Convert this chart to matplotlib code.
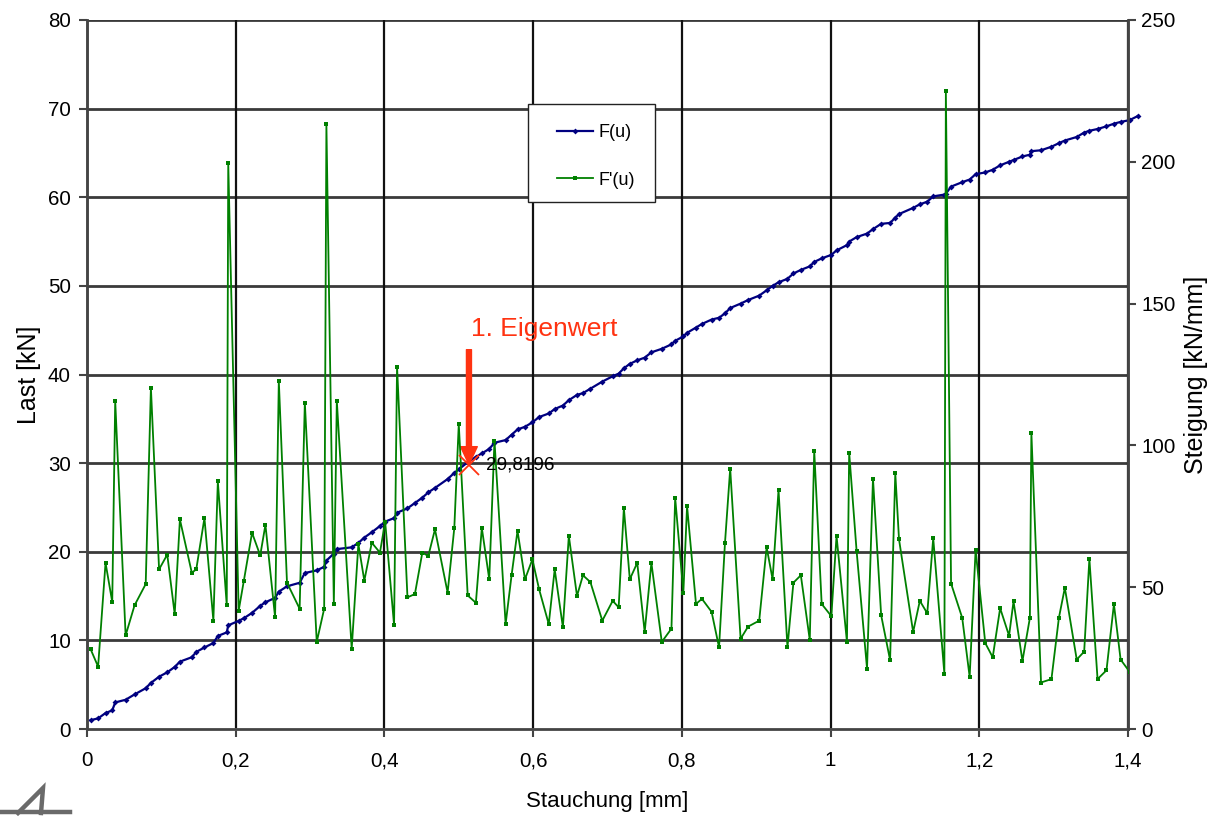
import numpy as np
import matplotlib.pyplot as plt
from matplotlib.lines import Line2D
from matplotlib.patches import Rectangle
from matplotlib.ticker import FuncFormatter

plt.rcParams['font.family'] = ['Liberation Sans', 'DejaVu Sans']

# Stauchung u [mm]
u = [0.005, 0.015, 0.025, 0.034, 0.038, 0.052, 0.064, 0.079, 0.086, 0.097,
     0.108, 0.118, 0.125, 0.141, 0.147, 0.158, 0.170, 0.176, 0.188, 0.190,
     0.204, 0.211, 0.222, 0.233, 0.240, 0.253, 0.258, 0.269, 0.286, 0.293,
     0.309, 0.319, 0.322, 0.332, 0.336, 0.356, 0.365, 0.373, 0.383, 0.394,
     0.401, 0.413, 0.417, 0.431, 0.441, 0.451, 0.459, 0.468, 0.485, 0.494,
     0.500, 0.512, 0.523, 0.531, 0.541, 0.548, 0.563, 0.571, 0.579, 0.589,
     0.599, 0.608, 0.621, 0.629, 0.640, 0.648, 0.659, 0.667, 0.677, 0.693,
     0.707, 0.715, 0.722, 0.730, 0.740, 0.750, 0.759, 0.773, 0.786, 0.791,
     0.802, 0.807, 0.819, 0.827, 0.840, 0.850, 0.858, 0.865, 0.879, 0.889,
     0.904, 0.914, 0.922, 0.930, 0.942, 0.950, 0.960, 0.972, 0.978, 0.988,
     1.001, 1.008, 1.022, 1.025, 1.035, 1.049, 1.057, 1.068, 1.080, 1.087,
     1.092, 1.111, 1.120, 1.130, 1.138, 1.153, 1.155, 1.162, 1.177, 1.187,
     1.195, 1.208, 1.218, 1.228, 1.240, 1.246, 1.258, 1.268, 1.270, 1.283,
     1.297, 1.307, 1.315, 1.331, 1.341, 1.348, 1.359, 1.371, 1.381, 1.390,
     1.402, 1.414]

# Last F(u) [kN]
F = [1.0, 1.2, 1.8, 2.1, 3.0, 3.3, 3.9, 4.6, 5.2, 5.9,
     6.4, 7.0, 7.6, 8.1, 8.7, 9.2, 9.7, 10.5, 10.9, 11.7,
     12.2, 12.5, 13.1, 13.9, 14.3, 14.8, 15.5, 16.1, 16.5, 17.6,
     17.9, 18.3, 19.0, 19.8, 20.3, 20.5, 21.0, 21.6, 22.2, 22.9,
     23.4, 23.8, 24.4, 24.9, 25.5, 26.1, 26.7, 27.2, 28.2, 28.9,
     29.3, 30.1, 30.7, 31.1, 31.6, 32.3, 32.6, 33.2, 33.8, 34.1,
     34.6, 35.2, 35.6, 36.1, 36.5, 37.1, 37.7, 37.9, 38.4, 39.2,
     39.8, 40.1, 40.7, 41.2, 41.6, 41.9, 42.5, 42.9, 43.4, 43.8,
     44.3, 44.7, 45.3, 45.7, 46.2, 46.4, 46.9, 47.5, 48.0, 48.4,
     48.9, 49.5, 50.0, 50.4, 50.8, 51.4, 51.8, 52.2, 52.7, 53.1,
     53.5, 54.0, 54.6, 55.0, 55.5, 55.9, 56.4, 57.0, 57.1, 57.7,
     58.1, 58.8, 59.2, 59.5, 60.1, 60.3, 60.4, 61.2, 61.7, 62.0,
     62.6, 62.8, 63.1, 63.6, 64.0, 64.2, 64.6, 64.8, 65.2, 65.3,
     65.7, 66.1, 66.4, 66.8, 67.3, 67.5, 67.7, 68.0, 68.3, 68.5,
     68.7, 69.2]

# Steigung F'(u) [kN/mm]
dF = [28.1, 22.0, 58.6, 44.8, 115.7, 33.0, 43.6, 51.1, 120.3, 56.3,
      61.5, 40.5, 73.9, 55.1, 56.3, 74.4, 38.2, 87.3, 43.6, 199.5,
      41.7, 52.3, 69.2, 61.2, 72.0, 39.4, 122.8, 51.6, 42.4, 115.1,
      30.7, 42.4, 213.3, 44.1, 115.7, 28.3, 65.2, 52.3, 65.7, 62.2,
      73.1, 36.6, 127.8, 46.4, 47.6, 62.2, 61.0, 70.4, 48.1, 70.9,
      107.5, 47.1, 44.5, 70.9, 52.8, 101.7, 37.0, 54.2, 69.9, 52.8,
      59.8, 49.3, 37.0, 56.3, 35.9, 68.1, 46.9, 54.2, 51.8, 38.2,
      45.2, 42.9, 77.9, 52.8, 58.6, 34.2, 58.6, 30.7, 35.4, 81.5,
      48.1, 78.6, 44.1, 45.9, 41.3, 28.8, 65.7, 91.8, 31.8, 36.1,
      38.2, 64.1, 52.8, 84.3, 28.8, 51.6, 54.2, 31.4, 98.1, 44.1,
      39.8, 68.1, 30.7, 97.4, 62.7, 21.3, 88.3, 40.1, 24.3, 90.2,
      66.9, 34.2, 45.2, 40.8, 67.3, 19.5, 224.9, 51.3, 39.2, 18.4,
      63.1, 30.3, 25.3, 42.6, 32.9, 45.0, 24.0, 39.2, 104.5, 16.4,
      17.6, 39.2, 49.8, 24.5, 27.3, 60.0, 17.6, 20.7, 44.0, 24.5,
      20.2, np.nan]

eig_u = 0.5137
eig_F = 29.8196

fig = plt.figure(figsize=(12.11, 8.16), dpi=100)
ax = fig.add_axes([0.0718, 0.1066, 0.8597, 0.8689])
ax2 = ax.twinx()

# grid
for y in range(10, 81, 10):
    ax.axhline(y, color='#3a3a3a', lw=2.0, zorder=0.5)
for x in np.arange(0.2, 1.41, 0.2):
    ax.axvline(x, color='#111111', lw=1.6, zorder=0.5)

ax.plot(u, F, color='#000080', lw=1.6, marker='D', ms=3, mew=0,
        clip_on=False, zorder=3, label='F(u)')
ax2.plot(u, dF, color='#008000', lw=1.3, marker='s', ms=2.5, mew=0,
         zorder=3, label="F'(u)")

ax.set_xlim(0, 1.4)
ax.set_ylim(0, 80)
ax2.set_ylim(0, 250)
ax.set_xticks(np.arange(0, 1.41, 0.2))
ax.set_yticks(range(0, 81, 10))
ax2.set_yticks(range(0, 251, 50))
ax.xaxis.set_major_formatter(FuncFormatter(lambda v, p: ('%g' % round(v, 1)).replace('.', ',')))

for a in (ax, ax2):
    a.tick_params(direction='out', length=6, width=1.5, labelsize=14.8,
                  color='#444444')
    for s in a.spines.values():
        s.set_color('#444444')
        s.set_linewidth(1.8)
    a.spines['top'].set_visible(False)
ax.spines['bottom'].set_color('#777777')
ax.tick_params(axis='x', pad=10)
ax.tick_params(axis='y', pad=5.5)
ax2.tick_params(axis='y', pad=3.5)

ax.set_xlabel('Stauchung [mm]', fontsize=16, labelpad=15)
ax.set_ylabel('Last [kN]', fontsize=18, labelpad=5)
ax2.set_ylabel('Steigung [kN/mm]', fontsize=18, labelpad=6)

# 1. Eigenwert
red = '#ff3311'
ax.annotate('', xy=(eig_u, eig_F), xytext=(eig_u, 42.8),
            arrowprops=dict(facecolor=red, edgecolor=red, width=3.6,
                            headwidth=12, headlength=13, shrink=0), zorder=6)
ax.text(0.5164, 45.1, '1. Eigenwert', color=red, fontsize=19,
        ha='left', va='center', zorder=6)
ax2.plot([eig_u], [eig_F * 250 / 80], marker='x', ms=15, mew=1.3,
         color=red, zorder=6)
ax2.text(0.5366, eig_F * 250 / 80, '29,8196', fontsize=13.6,
         ha='left', va='center', zorder=6)

# legend box
W, H = 1211, 816
x0, x1, y0, y1 = 87, 1128, 729, 20
def ax_frac(px_x, px_y):
    return (px_x - x0) / (x1 - x0), (y0 - px_y) / (y0 - y1)

bx, by = ax_frac(528, 202)
bw = (655 - 528) / (x1 - x0)
bh = (202 - 104) / (y0 - y1)
ax2.add_patch(Rectangle((bx, by), bw, bh, transform=ax2.transAxes,
                        facecolor='white', edgecolor='#222222', lw=1.0,
                        zorder=6.5, clip_on=False))

h1, l1 = ax.get_legend_handles_labels()
h2, l2 = ax2.get_legend_handles_labels()
leg = ax2.legend(h1 + h2, l1 + l2, loc='upper left',
                 bbox_to_anchor=ax_frac(557, 124), fontsize=13,
                 frameon=False, labelspacing=1.7, handlelength=2.0,
                 borderpad=0, borderaxespad=0, handletextpad=0.3)
leg.set_zorder(7)

# logo
def px(xs, ys):
    return [x / W for x in xs], [1 - y / H for y in ys]
for xs, ys in [([0, 70], [812, 812]), ([18, 43, 41], [813, 788, 813])]:
    fx, fy = px(xs, ys)
    fig.add_artist(Line2D(fx, fy, color='#6a6a6a', lw=3.2,
                          solid_joinstyle='miter'))

fig.savefig('out.png', dpi=100)
